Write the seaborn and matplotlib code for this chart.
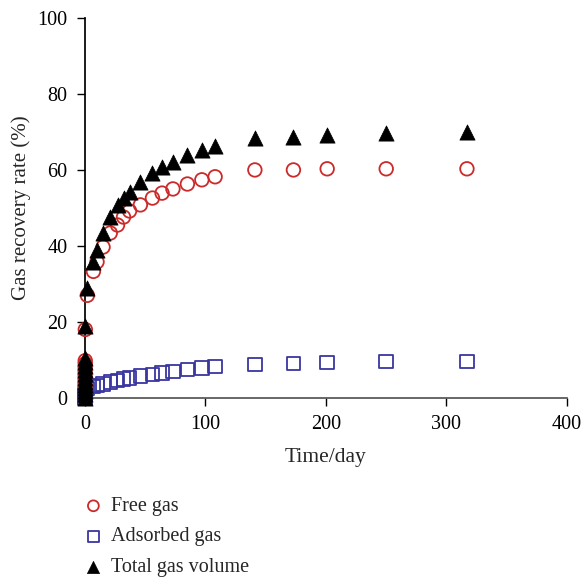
import numpy as np
import pandas as pd
import matplotlib
matplotlib.use("Agg")
import matplotlib.pyplot as plt
import seaborn as sns

# Time (days)
days = [0, 0.02, 0.04, 0.06, 0.08, 0.1, 0.12, 0.14, 0.16, 0.18, 0.2, 0.22,
        0.3, 2, 7, 10, 15, 21, 27, 32, 37, 46, 56, 64, 73, 85, 97, 108,
        141, 173, 201, 250, 317]
free_gas = [0, 0.8, 1.6, 2.4, 3.2, 4.0, 5.0, 6.0, 7.0, 8.0, 9.0, 9.8,
            18.0, 27.0, 33.3, 35.8, 39.7, 43.4, 45.5, 47.6, 49.2, 50.8, 52.6, 53.9, 55.0, 56.3, 57.4, 58.2,
            60.0, 60.0, 60.3, 60.3, 60.3]
adsorbed_gas = [0, 0.05, 0.1, 0.15, 0.2, 0.25, 0.3, 0.35, 0.4, 0.45, 0.5, 0.55,
                0.8, 2.5, 3.0, 3.3, 3.7, 4.2, 4.6, 5.0, 5.2, 5.7, 6.2, 6.6, 7.0, 7.5, 7.9, 8.2,
                8.8, 9.1, 9.3, 9.6, 9.6]
total_gas = [0, 0.9, 1.7, 2.6, 3.4, 4.3, 5.3, 6.4, 7.4, 8.5, 9.5, 10.4,
             18.8, 28.8, 35.8, 39.0, 43.4, 47.6, 50.8, 52.6, 54.2, 56.8, 59.2, 60.8, 62.1, 64.0, 65.3, 66.3,
             68.3, 68.8, 69.3, 69.7, 70.0]

series_names = ["Free gas", "Adsorbed gas", "Total gas volume"]
x_ticks = [0, 100, 200, 300, 400]
y_ticks = [0, 20, 40, 60, 80, 100]

df = pd.DataFrame({
    "day": days * 3,
    "rate": free_gas + adsorbed_gas + total_gas,
    "series": [series_names[0]] * len(days) + [series_names[1]] * len(days) + [series_names[2]] * len(days),
})

sns.set_theme(style="ticks")
plt.rcParams["font.family"] = ["Liberation Serif", "DejaVu Serif"]

fig = plt.figure(figsize=(5.86, 5.80), dpi=100)
ax = fig.add_axes([0.145, 0.314, 0.8225, 0.655])

red = "#cc2a2a"
blue = "#3a36a0"

sns.scatterplot(data=df[df.series == series_names[0]], x="day", y="rate", ax=ax,
                marker="o", s=95, facecolor="none", edgecolor=red, linewidth=1.3,
                label=series_names[0], clip_on=False, zorder=3)
sns.scatterplot(data=df[df.series == series_names[1]], x="day", y="rate", ax=ax,
                marker="s", s=95, facecolor="none", edgecolor=blue, linewidth=1.3,
                label=series_names[1], clip_on=False, zorder=3)
sns.scatterplot(data=df[df.series == series_names[2]], x="day", y="rate", ax=ax,
                marker="^", s=120, color="black", edgecolor="black", linewidth=0.5,
                label=series_names[2], clip_on=False, zorder=4)

ax.set_xlim(0, 400)
ax.set_ylim(0, 100)
ax.set_xticks(x_ticks)
ax.set_yticks(y_ticks)
ax.tick_params(labelsize=14.5, length=5.5, width=1, direction="out", colors="black", pad=7)
for sp in ["top", "right"]:
    ax.spines[sp].set_visible(False)
ax.spines["left"].set_color("black")
ax.spines["bottom"].set_color("#555555")
ax.set_xlabel("Time/day", fontsize=15.5, labelpad=10)
ax.set_ylabel("Gas recovery rate (%)", fontsize=15, labelpad=5)

handles, labels = ax.get_legend_handles_labels()
ax.get_legend().remove()
fig.legend(handles, labels, loc="upper left", bbox_to_anchor=(0.125, 0.157),
           frameon=False, fontsize=14.5, labelspacing=0.56, handletextpad=0.25,
           handlelength=1.2, markerscale=0.8, borderaxespad=0)

fig.savefig("out.png", dpi=100)
